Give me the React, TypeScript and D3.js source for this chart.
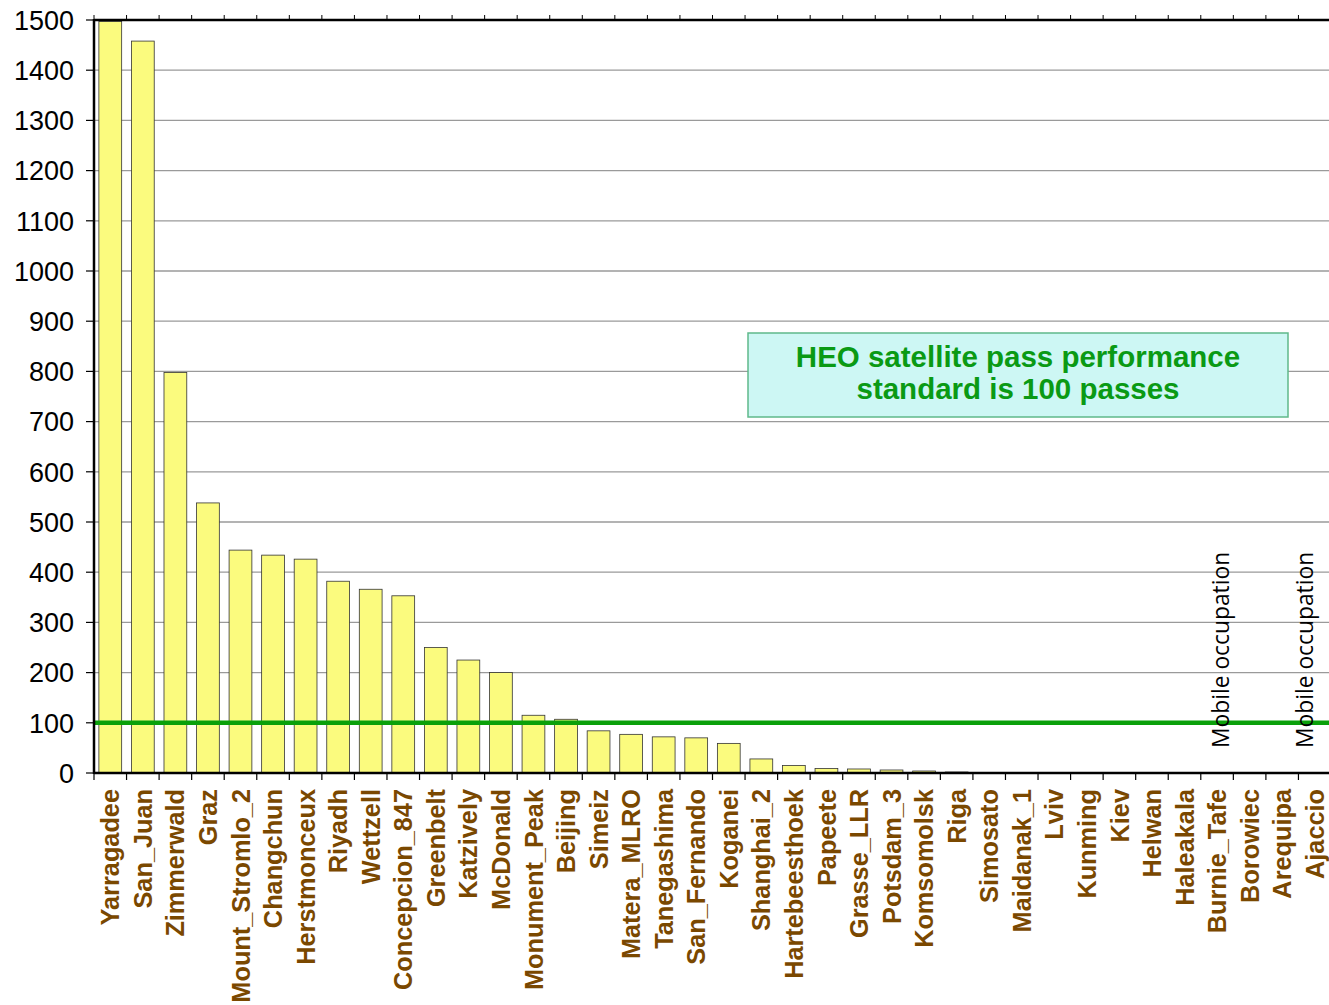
import React from "react";
import * as d3 from "d3";

const stations = [
  "Yarragadee", "San_Juan", "Zimmerwald", "Graz", "Mount_Stromlo_2", "Changchun",
  "Herstmonceux", "Riyadh", "Wettzell", "Concepcion_847", "Greenbelt", "Katzively",
  "McDonald", "Monument_Peak", "Beijing", "Simeiz", "Matera_MLRO", "Tanegashima",
  "San_Fernando", "Koganei", "Shanghai_2", "Hartebeesthoek", "Papeete", "Grasse_LLR",
  "Potsdam_3", "Komsomolsk", "Riga", "Simosato", "Maidanak_1", "Lviv", "Kunming",
  "Kiev", "Helwan", "Haleakala", "Burnie_Tafe", "Borowiec", "Arequipa", "Ajaccio",
];
const passes = [
  1497, 1458, 798, 538, 444, 434, 426, 382, 366, 353, 250, 225,
  200, 115, 107, 84, 77, 72, 70, 59, 28, 15, 9, 8,
  6, 4, 2, 0, 0, 0, 0, 0, 0, 0, 0, 0, 0, 0,
];
const yTicks = [0, 100, 200, 300, 400, 500, 600, 700, 800, 900, 1000, 1100, 1200, 1300, 1400, 1500];
const standard = 100;
const noteLines = ["HEO satellite pass performance", "standard is 100 passes"];
const mobileStations = ["Burnie_Tafe", "Ajaccio"];
const mobileText = "Mobile occupation";

const W = 1329;
const H = 1005;
const left = 94;
const right = 1331;
const top = 20;
const bottom = 773;

export default function App() {
  const x = d3.scaleBand<string>().domain(stations).range([left, right]).paddingInner(0.3).paddingOuter(0.15);
  const step = x.step();
  const y = d3.scaleLinear().domain([0, 1500]).range([bottom, top]);
  const boundaries = d3.range(stations.length + 1).map((i) => left + i * step);
  const font = "'Liberation Sans', Arial, Helvetica, sans-serif";

  return (
    <svg width={W} height={H} style={{ position: "absolute", left: 0, top: 0, background: "#fff" }}>
      <rect x={0} y={0} width={W} height={H} fill="#fff" />
      {yTicks.map((t) => (
        <line key={"g" + t} x1={left} x2={W} y1={y(t)} y2={y(t)} stroke="#9a9a9a" strokeWidth={1.3} />
      ))}
      {stations.map((s, i) =>
        passes[i] > 0 ? (
          <rect
            key={s}
            x={x(s)!}
            y={y(passes[i])}
            width={x.bandwidth()}
            height={y(0) - y(passes[i])}
            fill="#fbfb7e"
            stroke="#333"
            strokeWidth={0.8}
          />
        ) : null
      )}
      <line x1={left} x2={W} y1={y(standard)} y2={y(standard)} stroke="#0aa00a" strokeWidth={4.5} />
      <line x1={left} x2={W} y1={top} y2={top} stroke="#000" strokeWidth={2.5} />
      {boundaries.map((b, i) => (
        <line key={"tt" + i} x1={b} x2={b} y1={top} y2={top - 5} stroke="#000" strokeWidth={1} />
      ))}
      <line x1={left} x2={W} y1={bottom} y2={bottom} stroke="#000" strokeWidth={2.5} />
      {boundaries.map((b, i) => (
        <line key={"bt" + i} x1={b} x2={b} y1={bottom} y2={bottom + 7} stroke="#000" strokeWidth={1.2} />
      ))}
      <line x1={left} x2={left} y1={top - 1} y2={bottom + 1} stroke="#000" strokeWidth={2.5} />
      {yTicks.map((t) => (
        <g key={"yt" + t}>
          <line x1={left - 8} x2={left} y1={y(t)} y2={y(t)} stroke="#000" strokeWidth={1.2} />
          <text x={left - 20} y={y(t)} dy="0.36em" textAnchor="end" fontFamily={font} fontSize={27} fill="#000">
            {t}
          </text>
        </g>
      ))}
      {stations.map((s) => {
        const cx = x(s)! + x.bandwidth() / 2;
        return (
          <text
            key={"l" + s}
            transform={`translate(${cx},789) rotate(-90)`}
            textAnchor="end"
            dy="0.36em"
            fontFamily={font}
            fontWeight="bold"
            fontSize={25.3}
            fill="#7a4800"
          >
            {s}
          </text>
        );
      })}
      <rect x={748} y={333} width={540} height={84} fill="#cdf7f4" stroke="#5fb98a" strokeWidth={1.5} />
      {noteLines.map((l, i) => (
        <text
          key={"n" + i}
          x={1018}
          y={367 + i * 32}
          textAnchor="middle"
          fontFamily={font}
          fontWeight="bold"
          fontSize={29.5}
          fill="#0a9a14"
        >
          {l}
        </text>
      ))}
      {mobileStations.map((s, i) => {
        const cx = x(s)! + x.bandwidth() / 2 + (i === 0 ? 4 : -10);
        return (
          <text
            key={"m" + s}
            transform={`translate(${cx},748) rotate(-90)`}
            textAnchor="start"
            dy="0.36em"
            fontFamily="'Open Sans', 'Noto Sans', sans-serif"
            fontSize={22.8}
            fill="#000"
          >
            {mobileText}
          </text>
        );
      })}
    </svg>
  );
}
